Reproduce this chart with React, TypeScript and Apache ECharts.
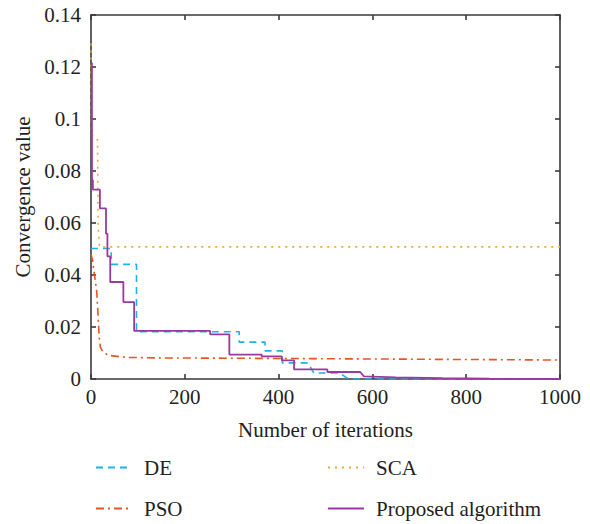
import React, { useEffect, useRef } from "react";
import * as echarts from "echarts";

const xTicks = [0, 200, 400, 600, 800, 1000];
const yTicks = [0, 0.02, 0.04, 0.06, 0.08, 0.1, 0.12, 0.14];

const seriesNames = ["DE", "PSO", "SCA", "Proposed algorithm"];

const deData: [number, number][] = [
  [0, 0.0502], [43, 0.0502], [43, 0.0441], [97, 0.0441], [97, 0.0182],
  [316, 0.0182], [316, 0.0142], [371, 0.0142], [371, 0.0108], [408, 0.0108],
  [408, 0.0062], [463, 0.0062], [475, 0.0023], [531, 0.0023], [545, 0.0004],
  [560, 0], [1000, 0],
];

const psoData: [number, number][] = [
  [0, 0.048], [3, 0.046], [6, 0.042], [9, 0.038], [12, 0.034], [14, 0.028],
  [16, 0.021], [18, 0.015], [20, 0.0123], [25, 0.0105], [37, 0.0091],
  [60, 0.0086], [80, 0.0083], [150, 0.0081], [300, 0.008], [600, 0.0077],
  [1000, 0.0073],
];

const scaData: [number, number][] = [
  [0, 0.129], [1, 0.094], [14, 0.092], [15, 0.06], [18, 0.0508], [1000, 0.0508],
];

const proposedData: [number, number][] = [
  [0, 0.1215], [2, 0.1215], [2, 0.0765], [4, 0.0765], [4, 0.0728], [19, 0.0728],
  [19, 0.0656], [32, 0.0656], [32, 0.0559], [35, 0.0559], [35, 0.0472],
  [41, 0.0472], [41, 0.0373], [69, 0.0373], [69, 0.0296], [92, 0.0296],
  [92, 0.0185], [254, 0.0185], [254, 0.0172], [295, 0.0172], [295, 0.0094],
  [364, 0.0094], [364, 0.0087], [407, 0.0087], [407, 0.0072], [433, 0.0072],
  [433, 0.0037], [504, 0.0037], [504, 0.0027], [574, 0.0027], [582, 0.001],
  [650, 0.0006], [750, 0.0003], [850, 0.0001], [1000, 0],
];

const colors = ["#1FB2E8", "#E8561F", "#F5A733", "#9A3A9E"];
const FONT = "Times New Roman";

export default function App() {
  const ref = useRef<HTMLDivElement>(null);
  useEffect(() => {
    document.body.style.margin = "0";
    if (!ref.current) return;
    const chart = echarts.init(ref.current, null, { renderer: "svg" });
    const axisLine = { show: true, onZero: false, lineStyle: { color: "#3a3a3a", width: 1.6 } };
    const axisTick = { show: true, inside: true, length: 5, lineStyle: { color: "#3a3a3a", width: 1.6 } };
    const label = { color: "#231f20", fontFamily: FONT, fontSize: 21 };
    const legendBase = {
      orient: "vertical", top: 452, height: 70,
      itemWidth: 36, itemHeight: 14, itemGap: 20,
      itemStyle: { opacity: 0 },
      textStyle: { ...label, padding: [0, 0, 0, 7] },
    };
    chart.setOption({
      animation: false,
      color: colors,
      textStyle: { fontFamily: FONT },
      grid: { left: 91, top: 15, width: 469, height: 364 },
      xAxis: [
        {
          type: "value", min: 0, max: 1000, interval: 200,
          axisLine, axisTick, splitLine: { show: false },
          axisLabel: { ...label, margin: 7, formatter: (v: number) => String(v) },
          name: "Number of iterations", nameLocation: "middle", nameGap: 40,
          nameTextStyle: { ...label },
        },
        {
          type: "value", min: 0, max: 1000, interval: 200, position: "top",
          axisLine, axisTick, splitLine: { show: false }, axisLabel: { show: false },
        },
      ],
      yAxis: [
        {
          type: "value", min: 0, max: 0.14, interval: 0.02,
          axisLine, axisTick, splitLine: { show: false },
          axisLabel: { ...label, margin: 10, formatter: (v: number) => (v === 0 ? "0" : String(+v.toFixed(2))) },
          name: "Convergence value", nameLocation: "middle", nameGap: 58,
          nameTextStyle: { ...label },
        },
        {
          type: "value", min: 0, max: 0.14, interval: 0.02, position: "right",
          axisLine, axisTick, splitLine: { show: false }, axisLabel: { show: false },
        },
      ],
      legend: [
        { ...legendBase, data: ["DE", "PSO"], left: 90 },
        { ...legendBase, data: ["SCA", "Proposed algorithm"], left: 322 },
      ],
      series: [
        { name: seriesNames[0], type: "line", data: deData, symbol: "none", lineStyle: { width: 1.6, type: [7, 5] }, z: 3 },
        { name: seriesNames[1], type: "line", data: psoData, symbol: "none", lineStyle: { width: 1.6, type: [8, 4, 2, 4] }, z: 2 },
        { name: seriesNames[2], type: "line", data: scaData, symbol: "none", lineStyle: { width: 1.6, type: [2, 5] }, z: 1 },
        { name: seriesNames[3], type: "line", data: proposedData, symbol: "none", lineStyle: { width: 1.8 }, z: 4 },
      ],
    });
    return () => chart.dispose();
  }, []);
  return <div ref={ref} style={{ width: 590, height: 524 }} />;
}
